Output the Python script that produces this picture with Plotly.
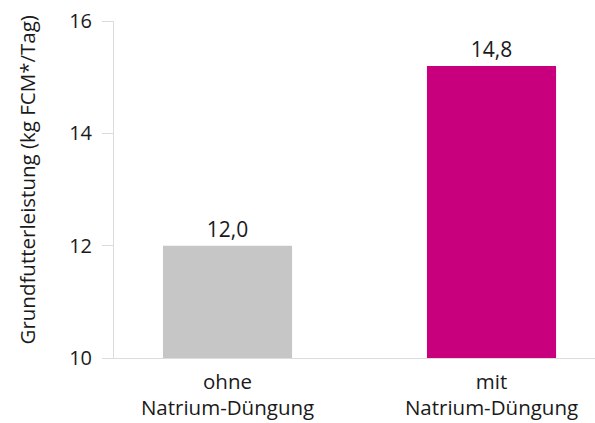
import plotly.graph_objects as go

categories = ["ohne<br>Natrium-Düngung", "mit<br>Natrium-Düngung"]
values = [12.0, 15.2]
value_labels = ["12,0", "14,8"]
colors = ["#c6c6c6", "#c8007d"]
y_ticks = [10, 12, 14, 16]
y_title = "Grundfutterleistung (kg FCM*/Tag)"

FONT = "Open Sans"
fig = go.Figure()
fig.add_trace(go.Bar(
    x=[0, 1], y=values, base=0,
    marker=dict(color=colors, line=dict(width=0)),
    width=0.489,
    text=value_labels, textposition="outside",
    textfont=dict(family=FONT, size=21, color="#1a1a1a"),
    cliponaxis=False,
))
fig.update_layout(
    width=595, height=423,
    margin=dict(l=114, r=0, t=21, b=65),
    plot_bgcolor="white", paper_bgcolor="white",
    showlegend=False,
    font=dict(family=FONT, color="#1a1a1a"),
    xaxis=dict(
        range=[-0.43, 1.392],
        tickvals=[0, 1], ticktext=categories,
        tickfont=dict(family=FONT, size=20.5, color="#1a1a1a"),
        showline=True, linecolor="#dcdcdc", linewidth=1,
        ticks="", showgrid=False, zeroline=False,
        ticklabelstandoff=5,
    ),
    yaxis=dict(
        range=[10, 16],
        tickvals=y_ticks,
        tickfont=dict(family=FONT, size=20, color="#1a1a1a"),
        showline=True, linecolor="#dcdcdc", linewidth=1,
        ticks="outside", ticklen=11, tickcolor="#dcdcdc",
        ticklabelstandoff=6,
        showgrid=False, zeroline=False,
    ),
    annotations=[dict(
        text=y_title, textangle=-90,
        xref="paper", yref="paper", x=0, y=0.5,
        xanchor="center", yanchor="middle",
        xshift=-88, yshift=9, showarrow=False,
        font=dict(family=FONT, size=20.5, color="#1a1a1a"),
    )],
)
fig.write_html("out.html")
